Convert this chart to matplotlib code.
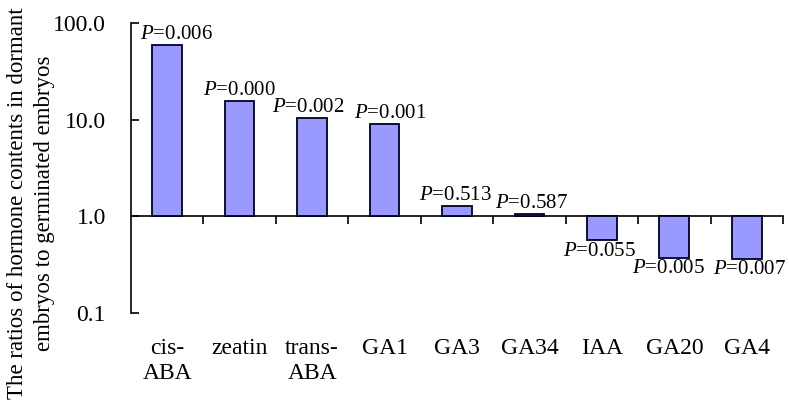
import numpy as np
import matplotlib
matplotlib.use("Agg")
import matplotlib.pyplot as plt
import matplotlib.transforms as mtransforms

plt.rcParams["font.family"] = ["Liberation Serif", "DejaVu Serif"]
plt.rcParams["mathtext.fontset"] = "custom"
plt.rcParams["mathtext.it"] = "Liberation Serif:italic"
plt.rcParams["mathtext.rm"] = "Liberation Serif"

# Data
hormones = ["cis-\nABA", "zeatin", "trans-\nABA", "GA1", "GA3", "GA34", "IAA", "GA20", "GA4"]
ratios = [60.0, 15.7, 10.4, 9.0, 1.27, 1.05, 0.565, 0.375, 0.365]
p_values = ["0.006", "0.000", "0.002", "0.001", "0.513", "0.587", "0.055", "0.005", "0.007"]
yticks = [0.1, 1.0, 10.0, 100.0]

# small horizontal nudges of the P labels (points), as in the original figure
label_dx = [7, 0, -3, 4, -1, 1.5, -1.5, -4, 2]

fig = plt.figure(figsize=(7.89, 4.07), dpi=100)
ax = fig.add_axes([0.166, 0.231, 0.8264, 0.7113])

x = np.arange(len(hormones))
heights = [r - 1.0 for r in ratios]
ax.bar(x, heights, bottom=1.0, width=0.41, color="#9999ff",
       edgecolor="#000022", linewidth=1.3, zorder=3)

ax.set_yscale("log")
ax.set_ylim(0.1, 100)
ax.set_xlim(-0.5, len(hormones) - 0.5)
ax.set_yticks(yticks)
ax.set_yticklabels(["%.1f" % v for v in yticks])
ax.yaxis.set_minor_locator(matplotlib.ticker.NullLocator())
ax.tick_params(axis="y", direction="in", length=6, width=1.2, pad=18, labelsize=17)

# x axis line at ratio = 1, ticks at category boundaries
ax.spines["top"].set_visible(False)
ax.spines["right"].set_visible(False)
ax.spines["bottom"].set_position(("data", 1.0))
ax.spines["left"].set_linewidth(1.2)
ax.spines["bottom"].set_linewidth(1.2)
ax.set_xticks(np.arange(len(hormones)) + 0.5)
ax.set_xticklabels([])
ax.tick_params(axis="x", direction="out", length=6, width=1.2)

# category names below the plot
trans = mtransforms.blended_transform_factory(ax.transData, ax.transAxes)
for xi, name in zip(x, hormones):
    ax.text(xi, -0.085, name, transform=trans, ha="center", va="top",
            fontsize=17, linespacing=1.25, multialignment="center")

# P values
for xi, r, p, dx in zip(x, ratios, p_values, label_dx):
    label = "$\\mathit{P}$=" + p
    if r >= 1:
        ax.annotate(label, (xi, r), xytext=(dx, 1), textcoords="offset points",
                    ha="center", va="bottom", fontsize=15)
    else:
        ax.annotate(label, (xi, r), xytext=(dx, -1), textcoords="offset points",
                    ha="center", va="top", fontsize=15)

fig.text(0.022, 0.5, "The ratios of hormone contents in dormant",
         rotation=90, ha="center", va="center", fontsize=16.5)
fig.text(0.057, 0.5, "embryos to germinated embryos",
         rotation=90, ha="center", va="center", fontsize=16.5)

fig.savefig("out.png", dpi=100)
